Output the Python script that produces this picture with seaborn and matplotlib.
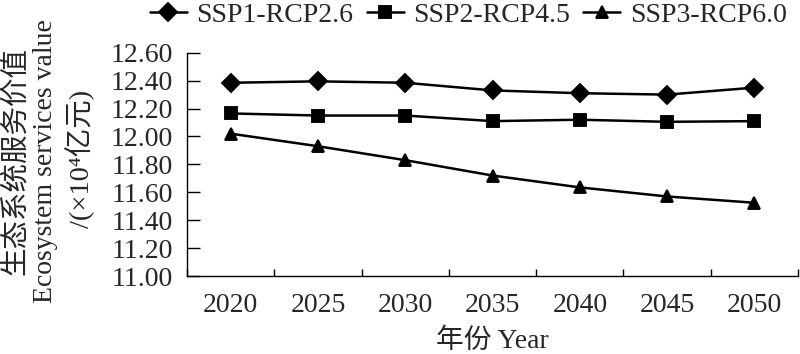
import matplotlib
matplotlib.use('Agg')
import matplotlib.pyplot as plt
from matplotlib.ticker import FixedLocator, FormatStrFormatter
import pandas as pd
import seaborn as sns

years = ['2020', '2025', '2030', '2035', '2040', '2045', '2050']
ssp1 = [12.385, 12.395, 12.385, 12.33, 12.31, 12.30, 12.35]
ssp2 = [12.165, 12.15, 12.15, 12.11, 12.12, 12.105, 12.11]
ssp3 = [12.02, 11.93, 11.83, 11.72, 11.635, 11.57, 11.525]
names = ['SSP1-RCP2.6', 'SSP2-RCP4.5', 'SSP3-RCP6.0']

df = pd.DataFrame({
    'year': years * 3,
    'value': ssp1 + ssp2 + ssp3,
    'scen': [n for n in names for _ in years],
})

sns.set_theme(style='white')
fam = ['Liberation Serif', 'DejaVu Serif', 'Noto Sans CJK SC']
plt.rcParams['font.family'] = fam
plt.rcParams['font.size'] = 20

fig = plt.figure(figsize=(8, 3.54), dpi=100)
ax = fig.add_axes([0.234, 0.2203, 0.7635, 0.6307])

sns.pointplot(data=df, x='year', y='value', hue='scen', order=years,
              hue_order=names, palette=['black'] * 3,
              markers=['D', 's', '^'], linestyles='-', errorbar=None,
              markersize=9, linewidth=1.8, ax=ax)

ax.set_xlim(-0.5, 6.5)
ax.set_ylim(11.0, 12.6)
ax.set_yticks([11.0 + 0.2 * i for i in range(9)])
ax.yaxis.set_major_formatter(FormatStrFormatter('%.2f'))
ax.xaxis.set_minor_locator(FixedLocator([i - 0.5 for i in range(8)]))
ax.tick_params(axis='x', which='major', length=0, pad=12, labelsize=20)
ax.tick_params(axis='x', which='minor', direction='in', length=5,
               width=1, color='black', bottom=True)
ax.tick_params(axis='y', direction='in', length=9, width=1, color='black',
               left=True, pad=10, labelsize=20)
for s in ['top', 'right']:
    ax.spines[s].set_visible(False)
for s in ['left', 'bottom']:
    ax.spines[s].set_color('black')
    ax.spines[s].set_linewidth(1)
ax.set_xlabel('年份 Year', fontsize=20, labelpad=8)
ax.set_ylabel('')

sns.move_legend(ax, 'upper right', bbox_to_anchor=(0.998, 1.025),
                bbox_transform=fig.transFigure, ncol=3, frameon=False,
                title=None, fontsize=20, handlelength=1.33,
                handletextpad=0.36, columnspacing=0.47, borderaxespad=0)

fig.text(0.019, 0.545, '生态系统服务价值', rotation=90, ha='center',
         va='center', fontsize=20.5)
fig.text(0.057, 0.545, 'Ecosystem services value', rotation=90,
         ha='center', va='center', fontsize=20)
fig.text(0.100, 0.55, '/(×10⁴亿元)', rotation=90, ha='center',
         va='center', fontsize=20.5)

fig.savefig('out.png', dpi=100)
